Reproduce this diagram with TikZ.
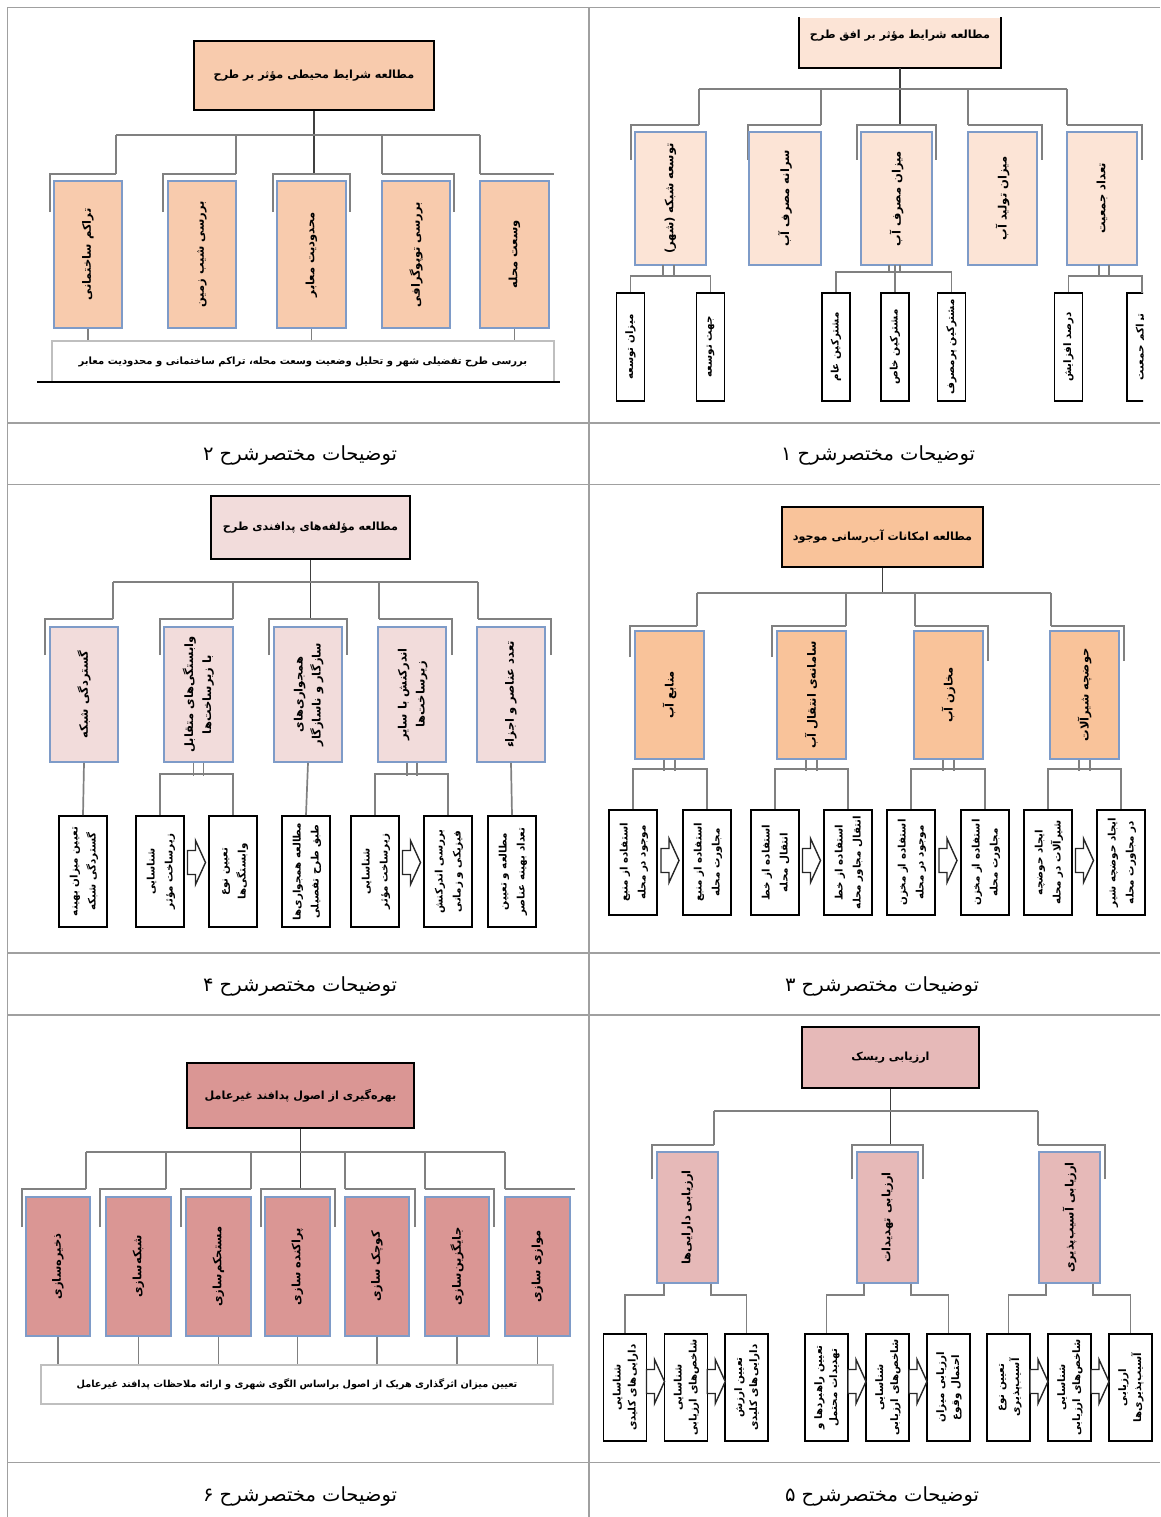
\documentclass[tikz,border=0pt]{standalone}
\usepackage{fontspec}
\usepackage{graphicx}
\usetikzlibrary{calc}
\newfontfamily\fa[Script=Arabic]{DejaVu Sans}
\TeXXeTstate=1
\definecolor{framec}{HTML}{A0A0A0}
\definecolor{connc}{HTML}{808080}
\definecolor{trunkc}{HTML}{404040}
\definecolor{bluec}{HTML}{7E9BC8}
\definecolor{wideg}{HTML}{BFBFBF}
\definecolor{pA}{HTML}{FCE4D6}
\definecolor{pB}{HTML}{F8CBAD}
\definecolor{pC}{HTML}{F9C39A}
\definecolor{pD}{HTML}{F2DCDB}
\definecolor{pE}{HTML}{E6B9B8}
\definecolor{pF}{HTML}{DA9694}
\newcommand\RL[1]{\beginR #1\endR}
\newcommand\vt[1]{\rotatebox{90}{\RL{#1}}}
\newcommand\vtt[2]{\rotatebox{90}{\begin{tabular}{@{}c@{}}\RL{#1}\\\RL{#2}\end{tabular}}}
\newcommand\barrow[3][0]{%
  \path ($(#2.east)!0.5!(#3.west)$) ++(0,#1) coordinate (ba);
  \draw[blockarr] ([shift={(-9,-12)}]ba) -- ([shift={(-1,-12)}]ba) -- ([shift={(-1,-22)}]ba) -- ([shift={(9,0)}]ba) -- ([shift={(-1,22)}]ba) -- ([shift={(-1,12)}]ba) -- ([shift={(-9,12)}]ba) -- cycle;}
\tikzset{
  framel/.style={draw=framec, line width=1.5pt},
  conn/.style={draw=connc, line width=1.7pt},
  trunk/.style={draw=trunkc, line width=1.7pt},
  topbox/.style={draw=black, line width=2pt, inner sep=0pt, font=\fa\bfseries\fontsize{11.2}{14}\selectfont},
  midbox/.style={draw=bluec, line width=1.6pt, inner sep=0pt, font=\fa\bfseries\fontsize{11.5}{18}\selectfont},
  leafbox/.style={draw=black, line width=1.8pt, fill=white, inner sep=0pt, font=\fa\bfseries\fontsize{10.3}{18}\selectfont},
  leafsm/.style={font=\fa\bfseries\fontsize{10.3}{15}\selectfont},
  widebox/.style={draw=wideg, line width=1.2pt, fill=white, inner sep=0pt, font=\fa\bfseries\fontsize{10}{12}\selectfont},
  sz/.style 2 args={minimum width=#1pt, minimum height=#2pt},
  blockarr/.style={draw=black!85, line width=1.4pt, fill=white},
  captxt/.style={inner sep=0pt, font=\fa\fontsize{19.5}{22}\selectfont},
  ttext/.style={inner sep=0pt, font=\fa\bfseries\fontsize{11.2}{14}\selectfont}
}
\begin{document}
\begin{tikzpicture}[x=1pt,y=-1pt]
\useasboundingbox (0,0) rectangle (1160,1517);
% ---------- table frame
\draw[framel] (1160,7.5) -- (7.5,7.5) -- (7.5,1517);
\draw[framel] (589,7.5) -- (589,1517);
\foreach \yy in {423,484.5,953,1015,1462.5} \draw[framel] (7.5,\yy) -- (1160,\yy);
% ---------- captions
\node[captxt] (cap1) at (878,455) {\RL{توضیحات مختصرشرح ۱}};
\node[captxt] (cap2) at (300,455) {\RL{توضیحات مختصرشرح ۲}};
\node[captxt] (cap3) at (882,986) {\RL{توضیحات مختصرشرح ۳}};
\node[captxt] (cap4) at (300,986) {\RL{توضیحات مختصرشرح ۴}};
\node[captxt] (cap5) at (882,1496) {\RL{توضیحات مختصرشرح ۵}};
\node[captxt] (cap6) at (300,1496) {\RL{توضیحات مختصرشرح ۶}};

% ================= PANEL 1 (top right)
\node[topbox, draw=none, fill=pA, sz={200}{49}] (p1top) at (900,42.5) {};
\draw[line width=2pt] (p1top.north west) -- (p1top.south west) -- (p1top.south east) -- (p1top.north east);
\node[ttext] (p1topt) at (900,36) {\RL{مطالعه شرایط مؤثر بر افق طرح}};
\draw[trunk] (p1top.south) -- (900,125);
\draw[conn] (699,89) -- (1067,89);
\foreach \x in {699,821,968,1067} \draw[conn] (\x,89) -- (\x,125);
\draw[conn] (631,160) -- (631,125) -- (699,125);
\draw[conn] (748,160) -- (748,125) -- (821,125);
\draw[conn] (857,160) -- (857,125) -- (936,125) -- (936,160);
\draw[conn] (1042,160) -- (1042,125) -- (968,125);
\draw[conn] (1142,160) -- (1142,125) -- (1067,125);
\node[midbox, fill=pA, sz={71}{133}] (p1b1) at (670.5,198.5) {\vt{توسعه شبکه (شهر)}};
\node[midbox, fill=pA, sz={72}{133}] (p1b2) at (785,198.5) {\vt{سرانه مصرف آب}};
\node[midbox, fill=pA, sz={71}{133}] (p1b3) at (896.5,198.5) {\vt{میزان مصرف آب}};
\node[midbox, fill=pA, sz={69}{133}] (p1b4) at (1002.5,198.5) {\vt{میزان تولید آب}};
\node[midbox, fill=pA, sz={70}{133}] (p1b5) at (1102,198.5) {\vt{تعداد جمعیت}};
\node[leafbox, sz={28}{108}] (p1c1) at (630.5,347) {\vt{میزان توسعه}};
\node[leafbox, sz={28}{108}] (p1c2) at (710.5,347) {\vt{جهت توسعه}};
\node[leafbox, sz={28}{108}] (p1c3) at (836,347) {\vt{مشترکین عام}};
\node[leafbox, sz={28}{108}] (p1c4) at (895,347) {\vt{مشترکین خاص}};
\node[leafbox, sz={28}{108}] (p1c5) at (951.5,347) {\vt{مشترکین پرمصرف}};
\node[leafbox, sz={28}{108}] (p1c6) at (1068.5,347) {\vt{درصد افزایش}};
\begin{scope}
\clip (1110,280) rectangle (1143,410);
\node[leafbox, sz={28}{108}] (p1c7) at (1141,347) {\vt{تراکم جمعیت}};
\end{scope}
\draw[conn] (663,265) -- (663,277); \draw[conn] (674,265) -- (674,277);
\draw[conn] (p1c1.north) -- ++(0,-16) -| (p1c2.north);
\draw[conn] (889,265) -- (889,273); \draw[conn] (895,265) -- (895,273); \draw[conn] (900,265) -- (900,273);
\draw[conn] (p1c3.north) -- ++(0,-20) -| (p1c5.north);
\draw[conn] (p1c4.north) -- ++(0,-20);
\draw[conn] (1099,265) -- (1099,277); \draw[conn] (1109,265) -- (1109,277);
\draw[conn] (p1c6.north) -- ++(0,-16) -| (1142,293);

% ================= PANEL 2 (top left)
\node[topbox, fill=pB, sz={240}{69}] (p2top) at (314,75.5) {\RL{مطالعه شرایط محیطی مؤثر بر طرح}};
\draw[trunk] (p2top.south) -- (314,174);
\draw[conn] (116,135) -- (480,135);
\foreach \x in {116,236,382,480} \draw[conn] (\x,135) -- (\x,174);
\draw[conn] (50,212) -- (50,174) -- (116,174);
\draw[conn] (163,212) -- (163,174) -- (236,174);
\draw[conn] (273,212) -- (273,174) -- (350,174) -- (350,212);
\draw[conn] (454,212) -- (454,174) -- (382,174);
\draw[conn] (480,174) -- (554,174);
\node[midbox, fill=pB, sz={68}{147}] (p2b1) at (88,254.5) {\vt{تراکم ساختمانی}};
\node[midbox, fill=pB, sz={68}{147}] (p2b2) at (202,254.5) {\vt{بررسی شیب زمین}};
\node[midbox, fill=pB, sz={69}{147}] (p2b3) at (311.5,254.5) {\vt{محدودیت معابر}};
\node[midbox, fill=pB, sz={68}{147}] (p2b4) at (416,254.5) {\vt{بررسی توپوگرافی}};
\node[midbox, fill=pB, sz={69}{147}] (p2b5) at (514.5,254.5) {\vt{وسعت محله}};
\node[widebox, sz={502}{41}] (p2wide) at (303,361.5) {\raisebox{-4pt}{\RL{بررسی طرح تفضیلی شهر و تحلیل وضعیت وسعت محله، تراکم ساختمانی و محدودیت معابر}}};
\foreach \b in {p2b1,p2b3,p2b5} \draw[conn] (\b.south) -- (\b.south |- p2wide.north);
\draw[line width=1.5pt] (37,382) -- (560,382);

% ================= PANEL 3 (middle right)
\node[topbox, fill=pC, sz={201}{60}] (p3top) at (882.5,537) {\RL{مطالعه امکانات آب‌رسانی موجود}};
\draw[trunk] (p3top.south) -- (882.5,593);
\draw[conn] (697,593) -- (1051,593);
\foreach \x in {697,846,915,1051} \draw[conn] (\x,593) -- (\x,626);
\draw[conn] (630,657) -- (630,626) -- (697,626);
\draw[conn] (772,657) -- (772,626) -- (846,626);
\draw[conn] (988,661) -- (988,626) -- (915,626);
\draw[conn] (1124,661) -- (1124,626) -- (1051,626);
\node[midbox, fill=pC, sz={69}{128}] (p3b1) at (669.5,695) {\vt{منابع آب}};
\node[midbox, fill=pC, sz={69}{128}] (p3b2) at (811.5,695) {\vt{سامانه‌ی انتقال آب}};
\node[midbox, fill=pC, sz={69}{128}] (p3b3) at (948.5,695) {\vt{مخازن آب}};
\node[midbox, fill=pC, sz={69}{128}] (p3b4) at (1084.5,695) {\vt{حوضچه شیرآلات}};
\node[leafbox, sz={48}{105}] (p3c1) at (633,862.5) {\vtt{استفاده از منبع}{موجود در محله}};
\node[leafbox, sz={48}{105}] (p3c2) at (707,862.5) {\vtt{استفاده از منبع}{مجاورت محله}};
\node[leafbox, sz={48}{105}] (p3c3) at (775,862.5) {\vtt{استفاده از خط}{انتقال محله}};
\node[leafbox, sz={48}{105}] (p3c4) at (848,862.5) {\vtt{استفاده از خط}{انتقال مجاور محله}};
\node[leafbox, sz={48}{105}] (p3c5) at (911,862.5) {\vtt{استفاده از مخزن}{موجود در محله}};
\node[leafbox, sz={48}{105}] (p3c6) at (985,862.5) {\vtt{استفاده از مخزن}{مجاورت محله}};
\node[leafbox, sz={48}{105}] (p3c7) at (1048,862.5) {\vtt{ایجاد حوضچه}{شیرآلات در محله}};
\node[leafbox, sz={48}{105}] (p3c8) at (1121,862.5) {\vtt{ایجاد حوضچه شیر}{در مجاورت محله}};
\foreach \b/\l/\r in {p3b1/p3c1/p3c2,p3b2/p3c3/p3c4,p3b3/p3c5/p3c6,p3b4/p3c7/p3c8}{
  \draw[conn] ([xshift=-5.5pt]\b.south) -- ++(0,11);
  \draw[conn] ([xshift=5.5pt]\b.south) -- ++(0,11);
  \draw[conn] (\l.north) -- ++(0,-40) -| (\r.north);}
\barrow[-2]{p3c1}{p3c2}
\barrow[-2]{p3c3}{p3c4}
\barrow[-2]{p3c5}{p3c6}
\barrow[-2]{p3c7}{p3c8}

% ================= PANEL 4 (middle left)
\node[topbox, fill=pD, sz={199}{63}] (p4top) at (310.5,527.5) {\RL{مطالعه مؤلفه‌های پدافندی طرح}};
\draw[trunk] (p4top.south) -- (310.5,619);
\draw[conn] (113,582) -- (478,582);
\foreach \x in {113,233,379,478} \draw[conn] (\x,582) -- (\x,619);
\draw[conn] (45,655) -- (45,619) -- (113,619);
\draw[conn] (160,655) -- (160,619) -- (233,619);
\draw[conn] (269,655) -- (269,619) -- (347,619) -- (347,655);
\draw[conn] (452,655) -- (452,619) -- (379,619);
\draw[conn] (551,655) -- (551,619) -- (478,619);
\node[midbox, fill=pD, sz={68}{135}] (p4b1) at (84,694.5) {\vt{گستردگی شبکه}};
\node[midbox, fill=pD, sz={69}{135}] (p4b2) at (198.5,694.5) {\vtt{وابستگی‌های متقابل}{با زیرساخت‌ها}};
\node[midbox, fill=pD, sz={68}{135}] (p4b3) at (308,694.5) {\vtt{همجواری‌های}{سازگار و ناسازگار}};
\node[midbox, fill=pD, sz={68}{135}] (p4b4) at (412,694.5) {\vtt{اندرکنش با سایر}{زیرساخت‌ها}};
\node[midbox, fill=pD, sz={68}{135}] (p4b5) at (511,694.5) {\vt{تعدد عناصر و اجزاء}};
\node[leafbox, sz={48}{111}] (p4c1) at (83,871.5) {\vtt{تعیین میزان بهینه}{گستردگی شبکه}};
\node[leafbox, sz={48}{111}] (p4c2) at (160,871.5) {\vtt{شناسایی}{زیرساخت مؤثر}};
\node[leafbox, sz={48}{111}] (p4c3) at (233,871.5) {\vtt{تعیین نوع}{وابستگی‌ها}};
\node[leafbox, sz={48}{111}] (p4c4) at (306,871.5) {\vtt{مطالعه همجواری‌ها}{طبق طرح تفصیلی}};
\node[leafbox, sz={48}{111}] (p4c5) at (375,871.5) {\vtt{شناسایی}{زیرساخت مؤثر}};
\node[leafbox, sz={48}{111}] (p4c6) at (448,871.5) {\vtt{بررسی اندرکنش}{فیزیکی و زمانی}};
\node[leafbox, sz={48}{111}] (p4c7) at (512,871.5) {\vtt{مطالعه و تعیین}{تعداد بهینه عناصر}};
\draw[conn] (p4b1.south) -- (p4c1.north);
\draw[conn] (p4b3.south) -- (p4c4.north);
\draw[conn] (p4b5.south) -- (p4c7.north);
\foreach \b/\l/\r in {p4b2/p4c2/p4c3,p4b4/p4c5/p4c6}{
  \draw[conn] ([xshift=-5pt]\b.south) -- ++(0,13);
  \draw[conn] ([xshift=5pt]\b.south) -- ++(0,13);
  \draw[conn] (\l.north) -- ++(0,-41) -| (\r.north);}
\barrow[-9]{p4c2}{p4c3}
\barrow[-9]{p4c5}{p4c6}

% ================= PANEL 5 (bottom right)
\node[topbox, fill=pE, sz={177}{61}] (p5top) at (890.5,1057.5) {\RL{ارزیابی ریسک}};
\draw[trunk] (p5top.south) -- (890.5,1145);
\draw[conn] (714,1111) -- (1038,1111);
\foreach \x in {714,1038} \draw[conn] (\x,1111) -- (\x,1145);
\draw[conn] (652,1179) -- (652,1145) -- (714,1145);
\draw[conn] (852,1179) -- (852,1145) -- (923,1145) -- (923,1179);
\draw[conn] (1105,1179) -- (1105,1145) -- (1038,1145);
\node[midbox, fill=pE, sz={61}{131}] (p5b1) at (687.5,1217.5) {\vt{ارزیابی دارایی‌ها}};
\node[midbox, fill=pE, sz={61}{131}] (p5b2) at (887.5,1217.5) {\vt{ارزیابی تهدیدات}};
\node[midbox, fill=pE, sz={61}{131}] (p5b3) at (1069.5,1217.5) {\vt{ارزیابی آسیب‌پذیری}};
\node[leafbox, leafsm, sz={43}{107}] (p5c1) at (625,1387.5) {\vtt{شناسایی}{دارایی‌های کلیدی}};
\node[leafbox, leafsm, sz={43}{107}] (p5c2) at (686,1387.5) {\vtt{شناسایی}{شاخص‌های ارزیابی}};
\node[leafbox, leafsm, sz={43}{107}] (p5c3) at (746.5,1387.5) {\vtt{تعیین ارزش}{دارایی‌های کلیدی}};
\node[leafbox, leafsm, sz={43}{107}] (p5c4) at (826.5,1387.5) {\vtt{تعیین راهبردها و}{تهدیدات محتمل}};
\node[leafbox, leafsm, sz={43}{107}] (p5c5) at (887.5,1387.5) {\vtt{شناسایی}{شاخص‌های ارزیابی}};
\node[leafbox, leafsm, sz={43}{107}] (p5c6) at (948.5,1387.5) {\vtt{ارزیابی میزان}{احتمال وقوع}};
\node[leafbox, leafsm, sz={43}{107}] (p5c7) at (1008.5,1387.5) {\vtt{تعیین نوع}{آسیب‌پذیری}};
\node[leafbox, leafsm, sz={43}{107}] (p5c8) at (1069.5,1387.5) {\vtt{شناسایی}{شاخص‌های ارزیابی}};
\node[leafbox, leafsm, sz={43}{107}] (p5c9) at (1130.5,1387.5) {\vtt{ارزیابی}{آسیب‌پذیری‌ها}};
\foreach \b/\l/\r in {p5b1/p5c1/p5c3,p5b2/p5c4/p5c6,p5b3/p5c7/p5c9}{
  \draw[conn] ([xshift=-23.5pt]\b.south) -- ++(0,11) -| (\l.north);
  \draw[conn] ([xshift=23.5pt]\b.south) -- ++(0,11) -| (\r.north);}
\barrow[-6]{p5c1}{p5c2}
\barrow[-6]{p5c2}{p5c3}
\barrow[-6]{p5c4}{p5c5}
\barrow[-6]{p5c5}{p5c6}
\barrow[-6]{p5c7}{p5c8}
\barrow[-6]{p5c8}{p5c9}

% ================= PANEL 6 (bottom left)
\node[topbox, fill=pF, sz={227}{65}] (p6top) at (300.5,1095.5) {\RL{بهره‌گیری از اصول پدافند غیرعامل}};
\draw[trunk] (p6top.south) -- (300.5,1189);
\draw[conn] (86,1152) -- (505,1152);
\foreach \x in {86,166,251,345,425,505} \draw[conn] (\x,1152) -- (\x,1189);
\draw[conn] (22,1227) -- (22,1189) -- (86,1189);
\draw[conn] (100,1227) -- (100,1189) -- (166,1189);
\draw[conn] (181,1227) -- (181,1189) -- (251,1189);
\draw[conn] (261,1227) -- (261,1189) -- (335,1189) -- (335,1227);
\draw[conn] (415,1227) -- (415,1189) -- (345,1189);
\draw[conn] (494,1227) -- (494,1189) -- (425,1189);
\draw[conn] (505,1189) -- (575,1189);
\node[midbox, fill=pF, sz={64}{139}] (p6b1) at (58,1266.5) {\vt{ذخیره‌سازی}};
\node[midbox, fill=pF, sz={65}{139}] (p6b2) at (138.5,1266.5) {\vt{شبکه‌سازی}};
\node[midbox, fill=pF, sz={65}{139}] (p6b3) at (218.5,1266.5) {\vt{مستحکم‌سازی}};
\node[midbox, fill=pF, sz={65}{139}] (p6b4) at (297.5,1266.5) {\vt{پراکنده سازی}};
\node[midbox, fill=pF, sz={64}{139}] (p6b5) at (377,1266.5) {\vt{کوچک سازی}};
\node[midbox, fill=pF, sz={64}{139}] (p6b6) at (457,1266.5) {\vt{جایگزین‌سازی}};
\node[midbox, fill=pF, sz={65}{139}] (p6b7) at (537.5,1266.5) {\vt{موازی سازی}};
\node[widebox, font=\fa\bfseries\fontsize{9.7}{12}\selectfont, sz={512}{39}] (p6wide) at (297,1384.5) {\RL{تعیین میزان اثرگذاری هریک از اصول براساس الگوی شهری و ارائه ملاحظات پدافند غیرعامل}};
\foreach \b in {p6b1,p6b2,p6b3,p6b4,p6b5,p6b6,p6b7} \draw[conn] (\b.south) -- (\b.south |- p6wide.north);
\end{tikzpicture}
\end{document}
